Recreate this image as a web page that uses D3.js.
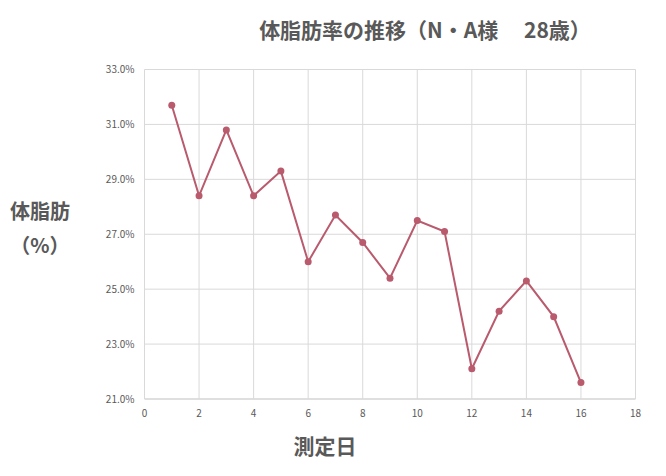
<!DOCTYPE html>
<html><head><meta charset="utf-8">
<script src="https://cdn.jsdelivr.net/npm/d3@7"></script>
<style>body{margin:0;background:#fff;font-family:"Noto Sans CJK JP","Noto Sans",sans-serif}</style>
</head><body>
<script>
// measurement day and body fat %
var days = [1,2,3,4,5,6,7,8,9,10,11,12,13,14,15,16];
var fat = [31.7,28.4,30.8,28.4,29.3,26.0,27.7,26.7,25.4,27.5,27.1,22.1,24.2,25.3,24.0,21.6];
var xTicks = [0,2,4,6,8,10,12,14,16,18];
var yTicks = [21,23,25,27,29,31,33];

var W = 666, H = 476;
var svg = d3.select("body").append("svg").attr("width", W).attr("height", H);

var x = d3.scaleLinear().domain([0,18]).range([144.5,635.5]);
var y = d3.scaleLinear().domain([21,33]).range([399,69.5]);

// gridlines
svg.append("g").selectAll("line").data(yTicks).join("line")
  .attr("x1", x(0)).attr("x2", x(18))
  .attr("y1", d => y(d)).attr("y2", d => y(d))
  .attr("stroke", d => d === 21 ? "#bfbfbf" : "#d9d9d9");
svg.append("g").selectAll("line").data(xTicks).join("line")
  .attr("x1", d => x(d)).attr("x2", d => x(d))
  .attr("y1", y(21)).attr("y2", y(33))
  .attr("stroke", "#d9d9d9");

// tick labels
svg.append("g").selectAll("text").data(yTicks).join("text")
  .attr("x", x(0) - 10).attr("y", d => y(d) + 3.5)
  .attr("text-anchor", "end").attr("font-size", 10).attr("fill", "#595959")
  .text(d => d.toFixed(1) + "%");
svg.append("g").selectAll("text").data(xTicks).join("text")
  .attr("x", d => x(d)).attr("y", y(21) + 18)
  .attr("text-anchor", "middle").attr("font-size", 10).attr("fill", "#595959")
  .text(d => d);

// line + markers
var line = d3.line().x((d,i) => x(days[i])).y(d => y(d));
svg.append("path").datum(fat).attr("d", line)
  .attr("fill", "none").attr("stroke", "#b95a6d").attr("stroke-width", 2);
svg.append("g").selectAll("circle").data(fat).join("circle")
  .attr("cx", (d,i) => x(days[i])).attr("cy", d => y(d)).attr("r", 3.5)
  .attr("fill", "#b95a6d");

// titles
svg.append("text").attr("x", 425).attr("y", 38).attr("text-anchor", "middle")
  .attr("font-size", 21).attr("font-weight", "bold").attr("fill", "#595959")
  .attr("xml:space", "preserve")
  .text("体脂肪率の推移（N・A様　 28歳）");
svg.append("text").attr("x", 40).attr("y", 219).attr("text-anchor", "middle")
  .attr("font-size", 20).attr("font-weight", "bold").attr("fill", "#595959")
  .text("体脂肪");
svg.append("text").attr("x", 40).attr("y", 253).attr("text-anchor", "middle")
  .attr("font-size", 20).attr("font-weight", "bold").attr("fill", "#595959")
  .text("（%）");
svg.append("text").attr("x", 325).attr("y", 454).attr("text-anchor", "middle")
  .attr("font-size", 21).attr("font-weight", "bold").attr("fill", "#595959")
  .text("測定日");
</script>
</body></html>
